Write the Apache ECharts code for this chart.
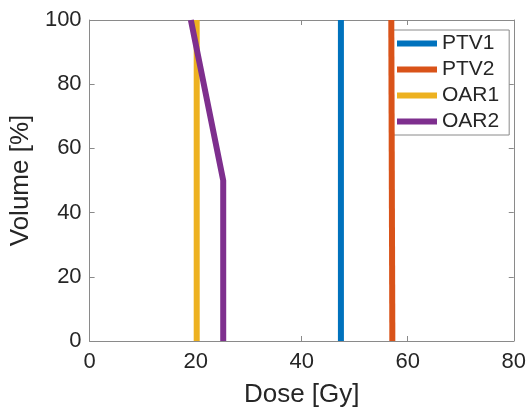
<!DOCTYPE html>
<html><head><meta charset="utf-8">
<script src="https://cdn.jsdelivr.net/npm/echarts@6/dist/echarts.min.js"></script>
<style>html,body{margin:0;padding:0;background:#fff}#c{width:529px;height:413px}</style>
</head><body><div id="c"></div>
<script>
const seriesNames = ['PTV1', 'PTV2', 'OAR1', 'OAR2'];
const ptv1Dose = [47.4, 47.4];
const ptv1Vol = [100, 0];
const ptv2Dose = [56.9, 57.1];
const ptv2Vol = [100, 0];
const oar1Dose = [20.2, 20.2];
const oar1Vol = [100, 0];
const oar2Dose = [19.1, 25.2, 25.2];
const oar2Vol = [100, 50, 0];
const xTicks = [0, 20, 40, 60, 80];
const yTicks = [0, 20, 40, 60, 80, 100];
const colors = ['#0072BD', '#D95319', '#EDB120', '#7E2F8E'];

const pairs = (xs, ys) => xs.map((x, i) => [x, ys[i]]);
const allData = [pairs(ptv1Dose, ptv1Vol), pairs(ptv2Dose, ptv2Vol), pairs(oar1Dose, oar1Vol), pairs(oar2Dose, oar2Vol)];

const font = '"Liberation Sans", Arial, sans-serif';
const axisGray = '#8a8a8a';
const textColor = '#262626';

const chart = echarts.init(document.getElementById('c'), null, {renderer: 'canvas'});
const baseAxis = {
  axisLine: {show: true, onZero: false, lineStyle: {color: axisGray, width: 1}},
  axisTick: {show: true, inside: true, length: 5, lineStyle: {color: axisGray}},
  splitLine: {show: false}
};
chart.setOption({
  animation: false,
  color: colors,
  grid: {left: 89, right: 15, top: 20, bottom: 70, containLabel: false},
  legend: {
    orient: 'vertical', left: 393, top: 30,
    data: seriesNames,
    icon: 'rect', itemWidth: 40, itemHeight: 6, itemGap: 5,
    padding: [3, 10, 3, 4],
    borderColor: axisGray, borderWidth: 1, backgroundColor: '#fff',
    textStyle: {fontFamily: font, fontSize: 21, color: textColor}
  },
  xAxis: [
    Object.assign({}, baseAxis, {
      type: 'value', min: xTicks[0], max: xTicks[xTicks.length - 1], interval: 20, position: 'bottom',
      name: 'Dose [Gy]', nameLocation: 'middle', nameGap: 41,
      nameTextStyle: {fontFamily: font, fontSize: 26, color: textColor},
      axisLabel: {fontFamily: font, fontSize: 22, color: textColor, margin: 10}
    }),
    Object.assign({}, baseAxis, {
      type: 'value', min: xTicks[0], max: xTicks[xTicks.length - 1], interval: 20, position: 'top',
      axisLabel: {show: false}
    })
  ],
  yAxis: [
    Object.assign({}, baseAxis, {
      type: 'value', min: yTicks[0], max: yTicks[yTicks.length - 1], interval: 20, position: 'left',
      name: 'Volume [%]', nameLocation: 'middle', nameGap: 55,
      nameTextStyle: {fontFamily: font, fontSize: 26, color: textColor},
      axisLabel: {fontFamily: font, fontSize: 22, color: textColor, margin: 8}
    }),
    Object.assign({}, baseAxis, {
      type: 'value', min: yTicks[0], max: yTicks[yTicks.length - 1], interval: 20, position: 'right',
      axisLabel: {show: false}
    })
  ],
  series: seriesNames.map((n, i) => ({
    name: n, type: 'line', data: allData[i], showSymbol: false, symbol: 'none',
    xAxisIndex: 0, yAxisIndex: 0,
    lineStyle: {width: 6, color: colors[i], cap: 'butt', join: 'miter'},
    itemStyle: {color: colors[i]}, z: 3 + i
  }))
});
</script></body></html>
